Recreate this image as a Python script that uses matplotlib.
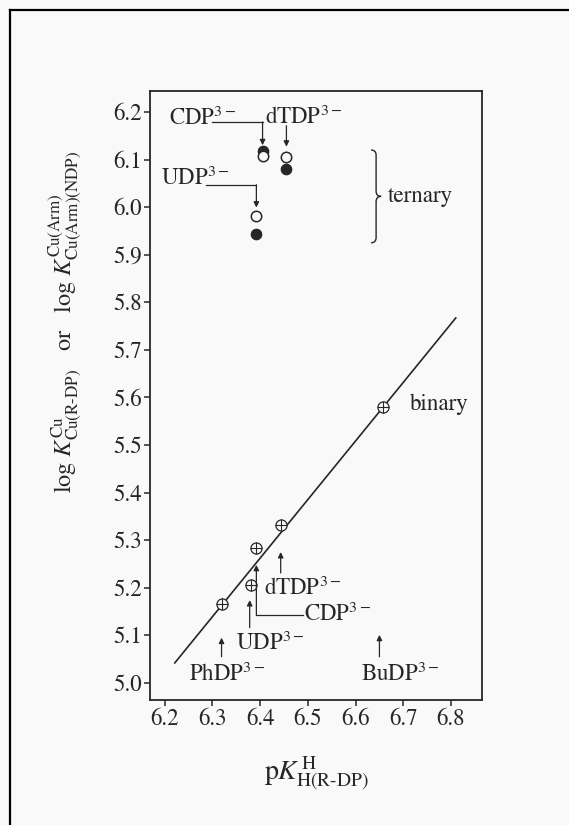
import numpy as np
import matplotlib.pyplot as plt
from matplotlib.path import Path
from matplotlib.patches import PathPatch
from matplotlib.lines import Line2D

plt.rcParams['font.family'] = 'STIXGeneral'
plt.rcParams['mathtext.fontset'] = 'stix'

# binary complexes, Cu(R-DP)
bin_names = ['PhDP', 'UDP', 'CDP', 'dTDP', 'BuDP']
bin_pk = [6.320, 6.380, 6.392, 6.443, 6.658]
bin_logk = [5.166, 5.206, 5.284, 5.332, 5.580]

# ternary complexes, Cu(Arm)(NDP)
tern_names = ['UDP', 'CDP', 'dTDP']
tern_pk = [6.392, 6.405, 6.455]
tern_open = [5.981, 6.108, 6.105]
tern_filled = [5.944, 6.118, 6.080]

# straight line through binary points
line_pk = [6.221, 6.810]
line_logk = [5.042, 5.767]

ink = '#262626'
bg = '#f9f9f9'

fig = plt.figure(figsize=(5.69, 8.25), dpi=100, facecolor=bg)
ax = fig.add_axes([0.2636, 0.1515, 0.5835, 0.7382], facecolor=bg)

ax.plot(line_pk, line_logk, color=ink, lw=1.2, zorder=2)
ax.plot(bin_pk, bin_logk, 'o', ms=8, mfc=bg, mec=ink, mew=0.9, zorder=3)
ax.plot(bin_pk, bin_logk, '+', ms=8, mec=ink, mew=0.8, zorder=4)

ax.plot(tern_pk, tern_filled, 'o', ms=7.5, mfc=ink, mec=ink, mew=0.9, zorder=3)
ax.plot(tern_pk, tern_open, 'o', ms=7.5, mfc=bg, mec=ink, mew=1.1, zorder=4)

ax.set_xlim(6.169, 6.865)
ax.set_ylim(4.964, 6.244)
ax.set_xticks(np.arange(6.2, 6.81, 0.1))
ax.set_yticks(np.arange(5.0, 6.21, 0.1))
ax.set_xticklabels(['%.1f' % v for v in np.arange(6.2, 6.81, 0.1)])
ax.set_yticklabels(['%.1f' % v for v in np.arange(5.0, 6.21, 0.1)])
ax.tick_params(direction='out', length=4, width=1.1, colors=ink, labelsize=16.5, pad=2)
for s in ax.spines.values():
    s.set_color(ink)
    s.set_linewidth(1.3)

ax.set_xlabel(r'$\mathrm{p}K^{\,\mathrm{H}}_{\mathrm{H(R\text{-}DP)}}$', fontsize=20, color=ink, labelpad=18)
fig.text(0.115, 0.61,
         r'$\log\,K^{\mathrm{Cu}}_{\mathrm{Cu(R\text{-}DP)}}$   or   $\log\,K^{\mathrm{Cu(Arm)}}_{\mathrm{Cu(Arm)(NDP)}}$',
         rotation=90, fontsize=17.5, color=ink, ha='center', va='center')

fs = 16.5
ap = dict(arrowstyle='-|>', color=ink, lw=0.9, mutation_scale=8, shrinkA=0, shrinkB=0)


def arrow(x, y0, y1):
    ax.annotate('', xy=(x, y1), xytext=(x, y0), arrowprops=ap)


def lab(x, y, s):
    ax.text(x, y, r'$\mathrm{%s}^{3-}$' % s, fontsize=fs, color=ink, ha='left', va='center')


# ternary labels
x, y = tern_pk[1], tern_filled[1]
lab(6.208, 6.186, 'CDP')
ax.plot([6.300, x], [6.179, 6.179], color=ink, lw=0.9)
arrow(x, 6.179, y + 0.012)

x, y = tern_pk[2], tern_open[2]
lab(6.411, 6.188, 'dTDP')
arrow(x, 6.171, y + 0.022)

x, y = tern_pk[0], tern_open[0]
lab(6.192, 6.061, 'UDP')
ax.plot([6.286, x], [6.047, 6.047], color=ink, lw=0.9)
arrow(x, 6.047, y + 0.018)

# brace
x0, ytop, ybot = 6.643, 6.120, 5.925
ymid = (ytop + ybot) / 2
dx, dy = 0.0105, 0.011
verts = [(x0 - dx, ytop), (x0, ytop), (x0, ytop - dy), (x0, ymid + dy),
         (x0, ymid), (x0 + dx, ymid), (x0, ymid), (x0, ymid - dy),
         (x0, ybot + dy), (x0, ybot), (x0 - dx, ybot)]
codes = [Path.MOVETO, Path.CURVE3, Path.CURVE3, Path.LINETO,
         Path.CURVE3, Path.CURVE3, Path.CURVE3, Path.CURVE3,
         Path.LINETO, Path.CURVE3, Path.CURVE3]
ax.add_patch(PathPatch(Path(verts, codes), fill=False, ec=ink, lw=1.0))
ax.text(6.667, ymid, 'ternary', fontsize=fs, color=ink, ha='left', va='center')

# binary labels
ax.text(6.713, bin_logk[4] + 0.006, 'binary', fontsize=fs, color=ink, ha='left', va='center')

arrow(bin_pk[0] - 0.001, 5.055, 5.095)
lab(6.250, 5.017, 'PhDP')

arrow(bin_pk[1] - 0.002, 5.116, 5.174)
lab(6.349, 5.084, 'UDP')

x = bin_pk[2]
ax.plot([x, 6.489], [5.143, 5.143], color=ink, lw=0.9)
arrow(x, 5.143, 5.248)
lab(6.492, 5.143, 'CDP')

arrow(bin_pk[3], 5.231, 5.275)
lab(6.409, 5.198, 'dTDP')

arrow(bin_pk[4] - 0.008, 5.055, 5.101)
lab(6.612, 5.017, 'BuDP')

# scan frame
fig.add_artist(Line2D([0.0176, 1.0], [0.9879, 0.9879], color='black', lw=1.6))
fig.add_artist(Line2D([0.0176, 0.0176], [0.0, 0.9879], color='black', lw=1.6))

fig.savefig('out.png', dpi=100, facecolor=bg)
